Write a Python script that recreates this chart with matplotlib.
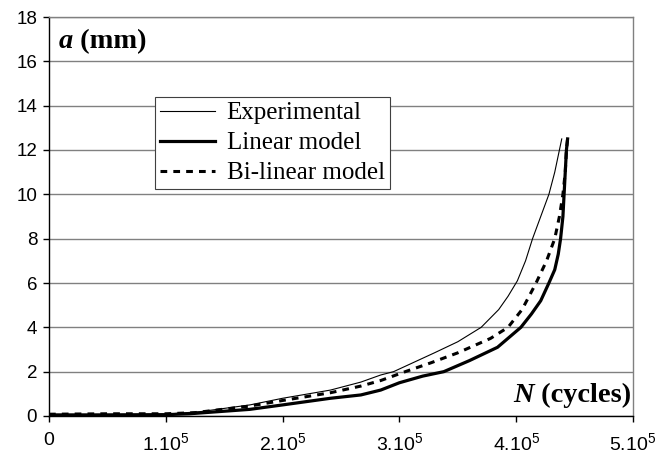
import matplotlib
matplotlib.use("Agg")
import matplotlib.pyplot as plt

# ---- data (N in cycles, a in mm) ----
exp_N = [0, 0.5e5, 1.0e5, 1.3e5, 1.72e5, 2.0e5, 2.41e5, 2.67e5, 2.84e5, 2.95e5, 3.3e5,
         3.5e5, 3.7e5, 3.85e5, 3.93e5, 4.01e5, 4.08e5, 4.14e5, 4.21e5, 4.28e5, 4.33e5,
         4.37e5, 4.39e5]
exp_a = [0.05, 0.07, 0.08, 0.2, 0.5, 0.8, 1.17, 1.53, 1.85, 2.0, 2.85,
         3.35, 4.0, 4.8, 5.4, 6.1, 7.0, 8.0, 9.0, 10.0, 11.0,
         12.0, 12.5]

lin_N = [0, 0.5e5, 1.0e5, 1.2e5, 1.72e5, 2.0e5, 2.41e5, 2.67e5, 2.84e5, 3.0e5, 3.2e5,
         3.38e5, 3.6e5, 3.84e5, 4.04e5, 4.13e5, 4.21e5, 4.28e5, 4.33e5, 4.36e5, 4.38e5,
         4.40e5, 4.41e5, 4.42e5, 4.43e5, 4.44e5]
lin_a = [0.05, 0.05, 0.06, 0.1, 0.3, 0.5, 0.8, 0.95, 1.17, 1.5, 1.8,
         2.0, 2.5, 3.1, 4.0, 4.6, 5.2, 6.0, 6.6, 7.3, 8.0,
         9.0, 10.0, 11.0, 12.0, 12.5]

bil_N = [0, 0.5e5, 1.0e5, 1.25e5, 1.72e5, 2.0e5, 2.41e5, 2.67e5, 2.84e5, 3.05e5, 3.27e5,
         3.5e5, 3.78e5, 3.93e5, 4.05e5, 4.17e5, 4.26e5, 4.33e5, 4.37e5, 4.40e5, 4.42e5,
         4.43e5, 4.44e5]
bil_a = [0.08, 0.1, 0.1, 0.15, 0.45, 0.7, 1.05, 1.35, 1.6, 2.0, 2.4,
         2.85, 3.5, 4.0, 4.8, 6.0, 7.0, 8.0, 9.0, 10.0, 11.0,
         12.0, 12.5]

series_labels = ["Experimental", "Linear model", "Bi-linear model"]
x_ticks = [0, 1e5, 2e5, 3e5, 4e5, 5e5]
x_ticklabels = ["0", r"1.10$^{5}$", r"2.10$^{5}$", r"3.10$^{5}$", r"4.10$^{5}$", r"5.10$^{5}$"]
y_ticks = [0, 2, 4, 6, 8, 10, 12, 14, 16, 18]

plt.rcParams["font.family"] = ["Liberation Sans", "DejaVu Sans"]
plt.rcParams["mathtext.fontset"] = "custom"
plt.rcParams["mathtext.rm"] = "Liberation Sans"
plt.rcParams["mathtext.it"] = "Liberation Sans:italic"
plt.rcParams["mathtext.bf"] = "Liberation Sans:bold"

fig = plt.figure(figsize=(6.57, 4.57), dpi=100)
ax = fig.add_axes([49 / 657, 41 / 457, 584 / 657, 399 / 457])

ax.plot(exp_N, exp_a, color="black", lw=0.8, label=series_labels[0], zorder=3)
ax.plot(lin_N, lin_a, color="black", lw=2.3, label=series_labels[1], zorder=3)
ax.plot(bil_N, bil_a, color="black", lw=2.2, ls=(0, (2.2, 2.0)), label=series_labels[2], zorder=3)

ax.set_xlim(0, 5e5)
ax.set_ylim(0, 18)
ax.set_xticks(x_ticks)
ax.set_xticklabels(x_ticklabels)
ax.set_yticks(y_ticks)
ax.tick_params(axis="both", direction="out", length=4.5, width=1, colors="black")
ax.tick_params(axis="x", labelsize=14, pad=7)
ax.tick_params(axis="y", labelsize=13.5, pad=4)
ax.grid(axis="y", color="#808080", lw=1)
ax.set_axisbelow(True)
for s in ["top", "right"]:
    ax.spines[s].set_color("#808080")
    ax.spines[s].set_linewidth(1)
for s in ["left", "bottom"]:
    ax.spines[s].set_color("black")
    ax.spines[s].set_linewidth(1)

# axis labels inside the plot
t1 = ax.text(0.017, 0.922, "a", transform=ax.transAxes, fontfamily="Liberation Serif",
             fontsize=20.5, fontweight="bold", fontstyle="italic", ha="left", va="baseline")
ax.annotate(" (mm)", xy=(1, 0), xycoords=t1, fontfamily="Liberation Serif", fontsize=20.5,
            fontweight="bold", ha="left", va="bottom")

t2 = ax.text(0.996, 0.034, " (cycles)", transform=ax.transAxes, fontfamily="Liberation Serif",
             fontsize=20.5, fontweight="bold", ha="right", va="baseline")
ax.annotate("N", xy=(0, 0), xycoords=t2, fontfamily="Liberation Serif", fontsize=20.5,
            fontweight="bold", fontstyle="italic", ha="right", va="bottom")

leg = ax.legend(loc="upper left", bbox_to_anchor=(0.182, 0.80), frameon=True, fancybox=False,
                prop={"family": "Liberation Serif", "size": 18}, handlelength=2.2,
                handletextpad=0.45, labelspacing=0.3, borderpad=0.2, borderaxespad=0)
leg.get_frame().set_edgecolor("#404040")
leg.get_frame().set_linewidth(0.8)
leg.get_frame().set_alpha(1)

fig.savefig("out.png", dpi=100)
